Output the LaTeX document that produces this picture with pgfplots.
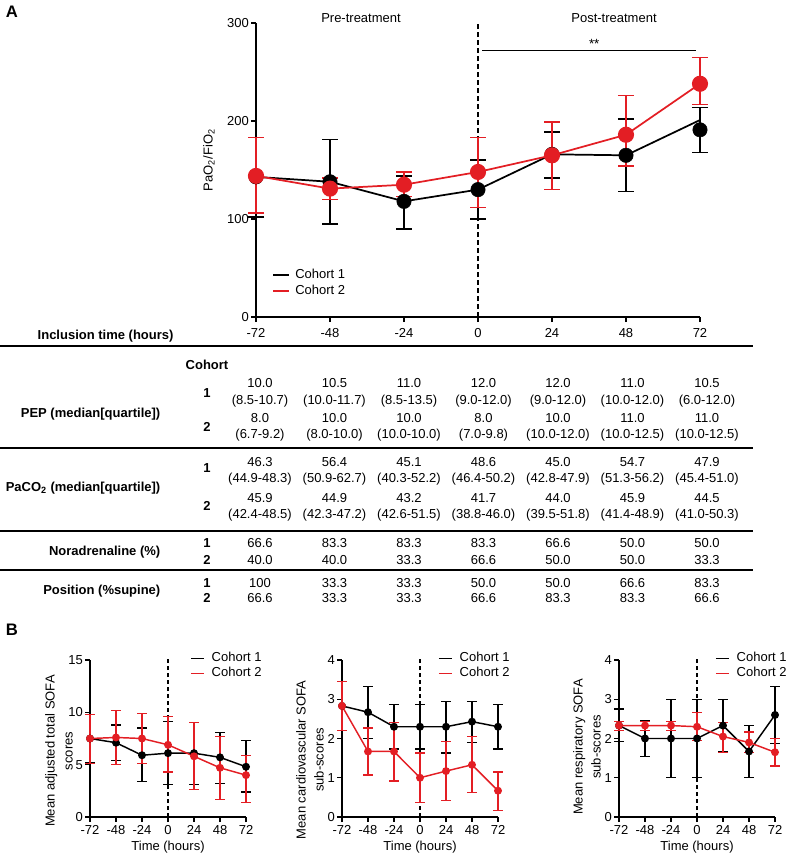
\documentclass[border=0pt]{standalone}
\usepackage{pgfplots}
\pgfplotsset{compat=1.18}
\usepackage{fontspec}
\setmainfont{Liberation Sans}
\definecolor{cred}{RGB}{227,30,36}

\pgfplotsset{
 common/.style={scale only axis, axis lines=left, axis line style={-, line width=1.1pt},
   tick align=outside, major tick length=3.75pt, tick style={line width=1.1pt, black},
   /pgf/number format/assume math mode=true, clip=false,
   xmin=-72, xmax=72, xtick={-72,-48,-24,0,24,48,72},
   yticklabel style={inner sep=1.5pt},
   legend cell align=left},
 ebtop/.style={error bars/y dir=both, error bars/y explicit,
   error bars/error bar style={line width=1.1pt, solid},
   error bars/error mark options={rotate=90, mark size=6pt, line width=1.1pt}},
 ebbot/.style={error bars/y dir=both, error bars/y explicit,
   error bars/error bar style={line width=1pt, solid},
   error bars/error mark options={rotate=90, mark size=3.6pt, line width=1pt}},
 bot/.style={common, width=117pt, height=117.75pt, ymin=0,
   xticklabel style={inner sep=2pt},
   legend image code/.code={\draw[##1] (0pt,0pt) -- (9.75pt,0pt); \path (14.5pt,0pt);},
   legend style={draw=none, fill=none, inner sep=0pt, row sep=0pt,
     nodes={inner sep=0.5pt, text height=7.5pt, text depth=2.75pt}}},
}

\begin{document}
\begin{tikzpicture}[font=\fontsize{9.75}{11.7}\selectfont]
\useasboundingbox (0,0) rectangle (590.25pt,-640.5pt);

% ---------------- Panel A chart ----------------
\begin{axis}[common, at={(192pt,-237.75pt)}, anchor=south west,
  width=333pt, height=220.5pt, ymin=0, ymax=300, ytick={0,100,200,300},
  xticklabel style={yshift=-1pt},
  legend image code/.code={\draw[#1] (0pt,0pt) -- (12pt,0pt); \path (15.5pt,0pt);},
  legend style={at={(axis description cs:0.036,0.170)}, anchor=north west,
    draw=none, fill=none, inner sep=0pt, row sep=0pt,
    nodes={inner sep=0.5pt, text height=8pt, text depth=3pt}}]
\addlegendimage{black, line width=1.3pt}
\addlegendentry{Cohort 1}
\addlegendimage{cred, line width=1.3pt}
\addlegendentry{Cohort 2}
\draw[line width=1.1pt, dash pattern=on 3.75pt off 2.25pt] (axis cs:0,0) -- (axis cs:0,300);
\draw[line width=1.1pt] (axis cs:1.4,272) -- (axis cs:70.6,272);
\node[font=\fontsize{10}{11}\selectfont] at (axis cs:37.7,279) {**};
% Cohort 1 line
\addplot[black, line width=1.3pt, forget plot] table {
x y
-72 143
-48 138
-24 118
0 130
24 166
48 165
72 201
};
% Cohort 1 points with error bars
\addplot[black, only marks, mark=*, mark size=5.4pt, ebtop, forget plot]
 table[x=x, y=y, y error plus expr=\thisrow{hi}-\thisrow{y}, y error minus expr=\thisrow{y}-\thisrow{lo}] {
x y hi lo
-72 143 183 102
-48 138 181 95
-24 118 144 90
0 130 160 100
24 166 189 142
48 165 202 128
72 191 214 168
};
% Cohort 2
\addplot[cred, line width=1.3pt, mark=*, mark size=5.4pt, mark options={fill=cred}, ebtop, forget plot]
 table[x=x, y=y, y error plus expr=\thisrow{hi}-\thisrow{y}, y error minus expr=\thisrow{y}-\thisrow{lo}] {
x y hi lo
-72 144 183 106
-48 131 142 120
-24 135 148 123
0 148 183 112
24 165 199 130
48 186 226 154
72 238 265 217
};
\end{axis}

% ---------------- Panel B1 ----------------
\begin{axis}[bot, at={(67.5pt,-612.75pt)}, anchor=south west, ymax=15, ytick={0,5,10,15},
  legend style={at={(axis description cs:0.641,1.06)}, anchor=north west}]
\addlegendimage{black, line width=1.1pt}
\addlegendentry{Cohort 1}
\addlegendimage{cred, line width=1.1pt}
\addlegendentry{Cohort 2}
\draw[line width=0.8pt, dash pattern=on 3pt off 2.25pt] (axis cs:0,0) -- (axis cs:0,15.3);
\addplot[black, line width=1.1pt, mark=*, mark size=2.4pt, ebbot, forget plot]
 table[x=x, y=y, y error plus expr=\thisrow{hi}-\thisrow{y}, y error minus expr=\thisrow{y}-\thisrow{lo}] {
x y hi lo
-72 7.5 9.8 5.2
-48 7.1 8.8 5.4
-24 5.9 8.5 3.4
0 6.1 9.1 3.1
24 6.1 9.0 3.1
48 5.7 8.1 3.2
72 4.8 7.3 2.4
};
\addplot[cred, line width=1.1pt, mark=*, mark size=2.4pt, mark options={fill=cred}, ebbot, forget plot]
 table[x=x, y=y, y error plus expr=\thisrow{hi}-\thisrow{y}, y error minus expr=\thisrow{y}-\thisrow{lo}] {
x y hi lo
-72 7.5 9.8 5.1
-48 7.6 10.2 5.0
-24 7.5 9.9 5.1
0 6.9 9.6 4.3
24 5.8 9.0 2.6
48 4.7 7.7 1.7
72 4.0 5.9 1.4
};
\end{axis}

% ---------------- Panel B2 ----------------
\begin{axis}[bot, at={(256.5pt,-612.75pt)}, anchor=south west, ymax=4, ytick={0,1,2,3,4},
  legend style={at={(axis description cs:0.615,1.06)}, anchor=north west}]
\addlegendimage{black, line width=1.1pt}
\addlegendentry{Cohort 1}
\addlegendimage{cred, line width=1.1pt}
\addlegendentry{Cohort 2}
\draw[line width=0.8pt, dash pattern=on 3pt off 2.25pt] (axis cs:0,0) -- (axis cs:0,4.08);
\addplot[black, line width=1.1pt, mark=*, mark size=2.4pt, ebbot, forget plot]
 table[x=x, y=y, y error plus expr=\thisrow{hi}-\thisrow{y}, y error minus expr=\thisrow{y}-\thisrow{lo}] {
x y hi lo
-72 2.83 3.45 2.2
-48 2.67 3.33 2.0
-24 2.3 2.87 1.73
0 2.3 2.87 1.73
24 2.3 2.95 1.63
48 2.43 2.95 1.9
72 2.3 2.87 1.73
};
\addplot[cred, line width=1.1pt, mark=*, mark size=2.4pt, mark options={fill=cred}, ebbot, forget plot]
 table[x=x, y=y, y error plus expr=\thisrow{hi}-\thisrow{y}, y error minus expr=\thisrow{y}-\thisrow{lo}] {
x y hi lo
-72 2.83 3.45 2.2
-48 1.67 2.27 1.07
-24 1.67 2.4 0.92
0 1.0 1.63 0.37
24 1.17 1.92 0.42
48 1.33 2.05 0.62
72 0.67 1.15 0.17
};
\end{axis}

% ---------------- Panel B3 ----------------
\begin{axis}[bot, at={(464.25pt,-612.75pt)}, anchor=south west, ymax=4, ytick={0,1,2,3,4},
  legend style={at={(axis description cs:0.615,1.06)}, anchor=north west}]
\addlegendimage{black, line width=1.1pt}
\addlegendentry{Cohort 1}
\addlegendimage{cred, line width=1.1pt}
\addlegendentry{Cohort 2}
\draw[line width=0.8pt, dash pattern=on 3pt off 2.25pt] (axis cs:0,0) -- (axis cs:0,4.08);
\addplot[black, line width=1.1pt, mark=*, mark size=2.4pt, ebbot, forget plot]
 table[x=x, y=y, y error plus expr=\thisrow{hi}-\thisrow{y}, y error minus expr=\thisrow{y}-\thisrow{lo}] {
x y hi lo
-72 2.33 2.75 1.93
-48 2.0 2.45 1.55
-24 2.0 3.0 1.0
0 2.0 3.0 1.0
24 2.33 3.0 1.67
48 1.67 2.33 1.0
72 2.6 3.33 1.87
};
\addplot[cred, line width=1.1pt, mark=*, mark size=2.4pt, mark options={fill=cred}, ebbot, forget plot]
 table[x=x, y=y, y error plus expr=\thisrow{hi}-\thisrow{y}, y error minus expr=\thisrow{y}-\thisrow{lo}] {
x y hi lo
-72 2.33 2.43 2.2
-48 2.33 2.43 2.2
-24 2.33 2.43 2.2
0 2.3 2.67 1.95
24 2.05 2.4 1.65
48 1.9 2.17 1.65
72 1.65 2.0 1.3
};
\end{axis}

% ---------------- Text, table ----------------
\begin{scope}[x=0.75pt, y=-0.75pt]
\node[font=\fontsize{12.5}{14}\selectfont\bfseries] at (12,12) {A};
\node[font=\fontsize{12.5}{14}\selectfont\bfseries] at (12,630) {B};
\node at (361,18) {Pre-treatment};
\node at (614,18) {Post-treatment};
\node[rotate=90] at (209,160) {PaO\textsubscript{2}/FiO\textsubscript{2}};
\node[anchor=base west, font=\fontsize{9.75}{11.7}\selectfont\bfseries] at (33,339.5) {Inclusion time (hours)};
% table lines
\foreach \yy in {346,448,531,570} {\draw[line width=1.4pt] (0,\yy) -- (753,\yy);}
% row labels
\begin{scope}[every node/.style={font=\fontsize{9.75}{11.7}\selectfont\bfseries}]
\node[anchor=base] at (207,369.5) {Cohort};
\node[anchor=base east] at (165,417.5) {PEP (median[quartile])};
\node[anchor=base east] at (165,491.5) {PaCO\textsubscript{2} (median[quartile])};
\node[anchor=base east] at (165,555) {Noradrenaline (\%)};
\node[anchor=base east] at (165,594.5) {Position (\%supine)};
\node[anchor=base] at (207,397.5) {1};
\node[anchor=base] at (207,431.5) {2};
\node[anchor=base] at (207,472.5) {1};
\node[anchor=base] at (207,510.5) {2};
\node[anchor=base] at (207,547.5) {1};
\node[anchor=base] at (207,564.5) {2};
\node[anchor=base] at (207,587.5) {1};
\node[anchor=base] at (207,602.5) {2};
\end{scope}
% cells
\foreach \t [count=\i from 0] in {10.0,10.5,11.0,12.0,12.0,11.0,10.5}
  {\node[anchor=base] at (260+74.5*\i,387.5) {\t};}
\foreach \t [count=\i from 0] in {(8.5-10.7),(10.0-11.7),(8.5-13.5),(9.0-12.0),(9.0-12.0),(10.0-12.0),(6.0-12.0)}
  {\node[anchor=base] at (260+74.5*\i,404.5) {\t};}
\foreach \t [count=\i from 0] in {8.0,10.0,10.0,8.0,10.0,11.0,11.0}
  {\node[anchor=base] at (260+74.5*\i,422.5) {\t};}
\foreach \t [count=\i from 0] in {(6.7-9.2),(8.0-10.0),(10.0-10.0),(7.0-9.8),(10.0-12.0),(10.0-12.5),(10.0-12.5)}
  {\node[anchor=base] at (260+74.5*\i,438.5) {\t};}
\foreach \t [count=\i from 0] in {46.3,56.4,45.1,48.6,45.0,54.7,47.9}
  {\node[anchor=base] at (260+74.5*\i,466.5) {\t};}
\foreach \t [count=\i from 0] in {(44.9-48.3),(50.9-62.7),(40.3-52.2),(46.4-50.2),(42.8-47.9),(51.3-56.2),(45.4-51.0)}
  {\node[anchor=base] at (260+74.5*\i,482.5) {\t};}
\foreach \t [count=\i from 0] in {45.9,44.9,43.2,41.7,44.0,45.9,44.5}
  {\node[anchor=base] at (260+74.5*\i,502.5) {\t};}
\foreach \t [count=\i from 0] in {(42.4-48.5),(42.3-47.2),(42.6-51.5),(38.8-46.0),(39.5-51.8),(41.4-48.9),(41.0-50.3)}
  {\node[anchor=base] at (260+74.5*\i,518.5) {\t};}
\foreach \t [count=\i from 0] in {66.6,83.3,83.3,83.3,66.6,50.0,50.0}
  {\node[anchor=base] at (260+74.5*\i,547.5) {\t};}
\foreach \t [count=\i from 0] in {40.0,40.0,33.3,66.6,50.0,50.0,33.3}
  {\node[anchor=base] at (260+74.5*\i,564.5) {\t};}
\foreach \t [count=\i from 0] in {100,33.3,33.3,50.0,50.0,66.6,83.3}
  {\node[anchor=base] at (260+74.5*\i,587.5) {\t};}
\foreach \t [count=\i from 0] in {66.6,33.3,33.3,66.6,83.3,83.3,66.6}
  {\node[anchor=base] at (260+74.5*\i,602.5) {\t};}
% bottom axis labels
\node[rotate=90, align=center, font=\fontsize{9.75}{13.5}\selectfont] at (59,751) {Mean adjusted total SOFA\\scores};
\node[rotate=90, align=center, font=\fontsize{9.75}{13.5}\selectfont] at (310,760) {Mean cardiovascular SOFA\\sub-scores};
\node[rotate=90, align=center, font=\fontsize{9.75}{13.5}\selectfont] at (587,747) {Mean respiratory SOFA\\sub-scores};
\node at (168,847) {Time (hours)};
\node at (420,847) {Time (hours)};
\node at (697,847) {Time (hours)};
\end{scope}
\end{tikzpicture}
\end{document}
